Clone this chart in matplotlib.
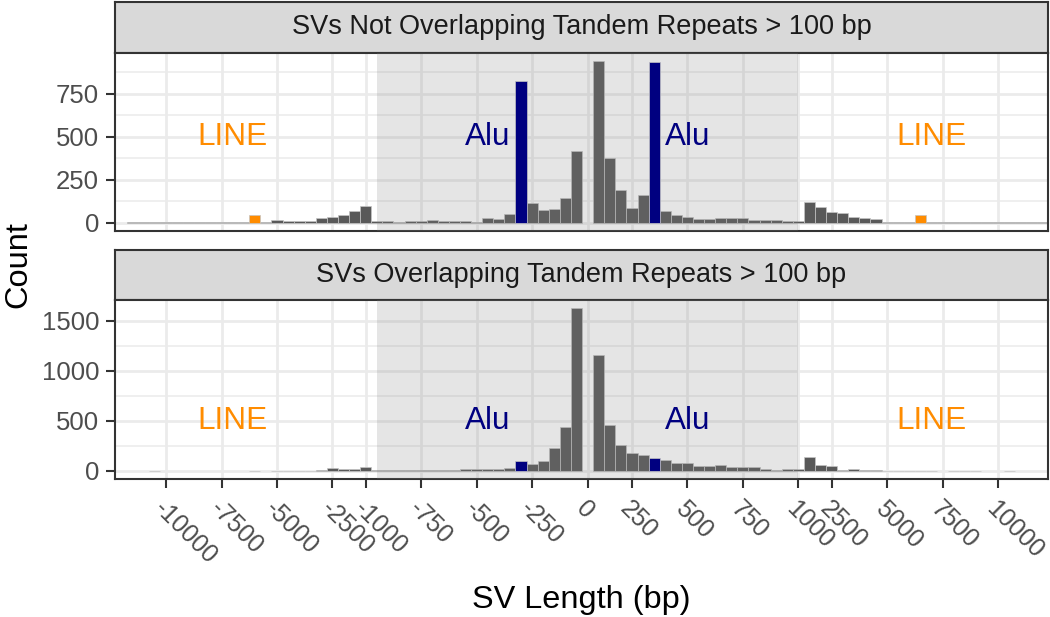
import numpy as np
import matplotlib
matplotlib.use('Agg')
import matplotlib.pyplot as plt
from matplotlib.patches import Rectangle
from matplotlib.transforms import ScaledTranslation

plt.rcParams['font.family'] = ['Liberation Sans', 'DejaVu Sans']

# bin centres in bp: deletions (negative) and insertions (positive)
del_bins = np.concatenate([np.arange(-11500, -1000, 500), np.arange(-1000, 0, 50)])
ins_bins = np.concatenate([np.arange(100, 1001, 50), np.arange(1500, 12001, 500)])

# counts per bin, facet 1: SVs not overlapping tandem repeats
no_tr_del = [3, 3, 3, 4, 3, 3, 4, 4, 3, 3, 5, 48, 8, 18, 12, 13, 13, 31, 35, 48, 69,
             98, 12, 12, 8, 13, 13, 15, 10, 10, 10, 6, 27, 23, 50, 825, 113, 75, 81, 144, 417]
no_tr_ins = [940, 377, 190, 88, 165, 935, 69, 44, 33, 21, 21, 27, 27, 27, 17, 19, 17, 13, 13,
             121, 92, 63, 56, 37, 29, 21, 8, 6, 6, 46, 8, 6, 5, 4, 4, 4, 3, 3, 3, 3, 3]

# counts per bin, facet 2: SVs overlapping tandem repeats
tr_del = [0, 0, 2, 0, 0, 0, 0, 0, 0, 0, 0, 1, 0, 2, 2, 2, 3, 8, 27, 17, 17,
          37, 5, 5, 5, 5, 8, 8, 8, 12, 15, 18, 16, 16, 33, 103, 70, 95, 230, 437, 1625]
tr_ins = [1160, 457, 260, 180, 155, 128, 113, 77, 83, 50, 47, 60, 43, 40, 40, 23, 13, 20, 20,
          140, 60, 53, 13, 17, 7, 7, 3, 3, 3, 2, 3, 0, 3, 3, 3, 0, 0, 2, 0, 0, 0]

alu_bins = [-300, 350]
line_bins = [-6000, 6500]

facet_titles = ['SVs Not Overlapping Tandem Repeats > 100 bp',
                'SVs Overlapping Tandem Repeats > 100 bp']
tick_bp = [-10000, -7500, -5000, -2500, -1000, -750, -500, -250, 0,
           250, 500, 750, 1000, 2500, 5000, 7500, 10000]


# piecewise axis: |length| above 1000 bp squeezed 10x
knots_bp = [-100000, -1000, 0, 100, 1000, 100000]
knots_pos = [-10900, -1000, 0, 50, 950, 10850]


def squash(bp):
    return np.interp(bp, knots_bp, knots_pos)


W, H = 1050, 617
fig = plt.figure(figsize=(W / 100, H / 100), dpi=100)

left, right = 115, 1048
panels = [(2, 53, 231), (250, 300, 479)]
data = [(no_tr_del, no_tr_ins), (tr_del, tr_ins)]
ytick_sets = [([0, 250, 500, 750], [125, 375, 625, 875]),
              ([0, 500, 1000, 1500], [250, 750, 1250])]

bins = np.concatenate([del_bins, ins_bins])
pos = squash(bins)
colors = np.array(['#595959'] * len(bins), dtype=object)
colors[np.isin(bins, alu_bins)] = 'navy'
colors[np.isin(bins, line_bins)] = 'darkorange'
plain = colors == '#595959'

for i, (s_top, p_top, p_bot) in enumerate(panels):
    # strip
    sax = fig.add_axes([left / W, 1 - p_top / H, (right - left) / W, (p_top - s_top) / H])
    sax.set_facecolor('#D9D9D9')
    sax.set_xticks([])
    sax.set_yticks([])
    for sp in sax.spines.values():
        sp.set_color('#333333')
        sp.set_linewidth(1.5)
    sax.text(0.5, 0.5, facet_titles[i], ha='center', va='center', fontsize=19.5,
             color='#1A1A1A', transform=sax.transAxes)

    ax = fig.add_axes([left / W, 1 - p_bot / H, (right - left) / W, (p_bot - p_top) / H])
    counts = np.concatenate(data[i])
    filled = counts > 0
    m1 = plain & filled
    m2 = ~plain & filled
    ax.bar(pos[m1], counts[m1], width=50, color='#595959',
           edgecolor='#C4C4C4', linewidth=0.5, zorder=2)
    ax.add_patch(Rectangle((squash(-950), -1e4), squash(1000) - squash(-950), 1e5,
                           facecolor='#7F7F7F', alpha=0.2, lw=0, zorder=3))
    ax.bar(pos[m2], counts[m2], width=50, color=colors[m2],
           edgecolor='#C4C4C4', linewidth=0.5, zorder=4)

    for x_bp in [-7000, 7000]:
        ax.text(squash(x_bp), 500, 'LINE', color='darkorange', fontsize=22.7,
                ha='center', va='center', zorder=5)
    for x_bp in [-450, 500]:
        ax.text(squash(x_bp), 500, 'Alu', color='navy', fontsize=22.7,
                ha='center', va='center', zorder=5)

    ymax = counts.max()
    ax.set_ylim(-0.05 * ymax, 1.05 * ymax)
    ax.set_xlim(squash(-12300), squash(12250))
    ax.set_yticks(ytick_sets[i][0])
    ax.set_yticks(ytick_sets[i][1], minor=True)
    ax.set_xticks(squash(tick_bp))
    ax.grid(which='major', color='#EBEBEB', lw=2.0, zorder=0)
    ax.grid(which='minor', axis='y', color='#EBEBEB', lw=1.1, zorder=0)
    ax.set_axisbelow(True)
    for sp in ax.spines.values():
        sp.set_color('#333333')
        sp.set_linewidth(1.5)
    ax.tick_params(axis='y', which='major', length=6.5, width=1.5, color='#333333',
                   labelsize=18.5, labelcolor='#4D4D4D', pad=5)
    ax.tick_params(axis='y', which='minor', length=0)

    if i == 0:
        ax.tick_params(axis='x', length=0, labelbottom=False)
    else:
        ax.set_xticklabels([str(v) for v in tick_bp])
        ax.tick_params(axis='x', length=6.5, width=1.5, color='#333333',
                       labelsize=18, labelcolor='#4D4D4D', pad=12)
        shift = ScaledTranslation(-8 / 100, 0, fig.dpi_scale_trans)
        for lab in ax.get_xticklabels():
            lab.set_rotation(-45)
            lab.set_ha('left')
            lab.set_va('center')
            lab.set_rotation_mode('anchor')
            lab.set_transform(lab.get_transform() + shift)

fig.text(581 / W, 1 - 600 / H, 'SV Length (bp)', ha='center', va='center', fontsize=23.4)
fig.text(18 / W, 1 - 265 / H, 'Count', ha='center', va='center', rotation=90, fontsize=23.4)

fig.savefig('out.png', dpi=100)
